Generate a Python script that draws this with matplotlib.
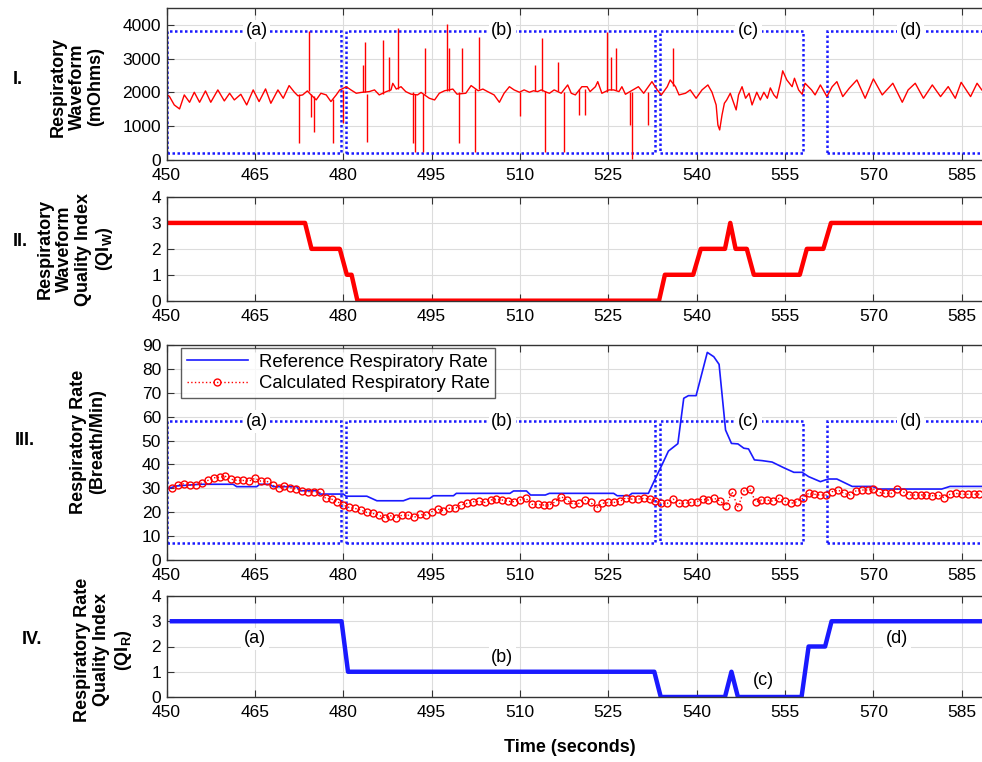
import matplotlib
matplotlib.use("Agg")
import matplotlib.pyplot as plt
from matplotlib.patches import Rectangle

plt.rcParams['font.family'] = ['Liberation Sans', 'DejaVu Sans']
plt.rcParams['mathtext.fontset'] = 'custom'
plt.rcParams['mathtext.rm'] = 'Liberation Sans'
plt.rcParams['mathtext.bf'] = 'Liberation Sans:bold'

# ---------------- data ----------------
x_ticks = [450, 465, 480, 495, 510, 525, 540, 555, 570, 585]

# Panel I: respiratory waveform (base trace)
wave_t = [450.0, 450.5, 451.3, 452.2, 453.0, 453.9, 454.7, 455.6, 456.6, 457.5,
          458.7, 459.8, 460.7, 461.5, 462.6, 463.6, 464.7, 465.7, 466.8, 467.7,
          468.9, 469.8, 470.8, 471.7, 472.3, 473.1, 473.9, 474.4, 475.4, 476.2,
          477.1, 477.9, 478.8, 479.4, 480.0, 480.5, 481.3, 482.2, 483.0, 484.4,
          485.3, 486.1, 487.3, 488.1, 488.4, 489.0, 489.8, 490.6, 491.5, 492.6,
          493.2, 494.6, 495.5, 496.3, 497.2, 498.6, 499.3, 500.8, 501.7, 502.9,
          503.7, 504.5, 505.6, 506.5, 507.3, 508.2, 509.0, 509.9, 510.7, 511.6,
          512.3, 513.0, 513.6, 514.6, 515.0, 515.8, 517.0, 518.1, 518.7, 519.4,
          520.5, 521.4, 521.9, 522.8, 523.2, 523.9, 525.1, 525.9, 526.8, 527.3,
          527.9, 529.6, 530.1, 531.0, 532.4, 533.3, 534.0, 535.0, 535.5, 536.4,
          537.0, 538.1, 538.9, 539.9, 540.9, 541.9, 542.6, 543.3, 543.6, 543.9,
          544.3, 544.7, 545.1, 545.7, 546.3, 546.7, 547.1, 547.7, 548.3, 548.9,
          549.4, 550.2, 550.8, 551.4, 552.0, 552.5, 553.1, 553.6, 554.2, 554.6,
          555.3, 556.2, 556.6, 557.3, 557.9, 558.4, 559.5, 560.1, 561.0, 562.1,
          563.0, 563.8, 564.8, 565.9, 567.2, 568.6, 570.0, 571.5, 573.3, 574.9,
          575.9, 577.1, 578.5, 580.0, 581.4, 582.7, 583.9, 584.9, 586.5, 587.6,
          588.4]
wave_v = [1946, 1877, 1630, 1512, 1927, 1709, 2006, 1709, 2045, 1709,
          2075, 1749, 1976, 1778, 1946, 1630, 2075, 1729, 2104, 1680,
          2075, 1828, 2203, 2006, 1900, 1927, 2045, 1950, 1780, 1976,
          1927, 1730, 1927, 2075, 2120, 2170, 2075, 1976, 2000, 2025,
          2075, 1927, 2025, 2075, 2270, 2100, 2170, 2025, 1950, 1927,
          2000, 1828, 1778, 1976, 2050, 2100, 1950, 1976, 2203, 2050,
          2100, 2025, 1927, 1709, 1976, 2170, 2075, 2006, 2075, 2006,
          2050, 2025, 2075, 2000, 1976, 2075, 1976, 2222, 1976, 1927,
          2170, 2170, 2025, 2170, 2320, 1976, 2075, 2075, 2025, 2170,
          1946, 2120, 2170, 1976, 2320, 2075, 1927, 2170, 2370, 2170,
          1927, 1976, 2075, 1828, 2075, 2222, 2006, 1630, 1035, 890,
          1335, 1680, 1778, 1976, 1680, 1482, 1927, 2170, 1828, 1976,
          1630, 2006, 1778, 2006, 1828, 2134, 1927, 1828, 2272, 2640,
          2370, 2170, 2420, 2075, 1946, 2272, 2075, 1927, 2222, 1877,
          2170, 2320, 1877, 2124, 2370, 1828, 2400, 1927, 2272, 1709,
          2075, 2272, 1828, 2222, 1877, 2173, 1828, 2300, 1877, 2272,
          2075]

# Panel I: artifact spikes (time, baseline, tip)
spike_t = [472.5, 474.2, 474.6, 475.0, 478.3, 479.9, 483.4, 483.7, 484.0, 486.7,
           487.7, 489.3, 491.8, 492.2, 493.5, 493.8, 497.6, 498.0, 499.6, 500.2,
           502.4, 503.1, 510.0, 512.6, 513.8, 514.2, 516.4, 517.5, 520.1, 521.0,
           524.8, 525.5, 526.3, 528.7, 529.0, 531.8, 535.9]
spike_base = [1950, 2040, 1950, 1900, 1800, 2080, 2000, 2000, 1950, 1950,
              2050, 2100, 2000, 1950, 1950, 1950, 2050, 2050, 2000, 2000,
              2100, 2100, 2000, 2050, 2050, 2050, 2050, 2000, 2100, 2100,
              2000, 2075, 2075, 2000, 2000, 2000, 2200]
spike_v = [515, 3820, 1285, 840, 515, 1085, 2815, 3505, 540, 3555,
           3060, 3900, 490, 250, 250, 3310, 4020, 3310, 490, 3310,
           250, 3655, 1300, 2815, 3605, 250, 2915, 250, 1335, 1335,
           3800, 3060, 3310, 1035, 30, 1035, 3310]

# Panel II: waveform quality index
qiw_t = [450.6, 473.5, 474.6, 479.4, 480.6, 481.4, 482.4, 533.6, 534.6, 539.4,
         540.7, 544.8, 545.7, 546.6, 548.5, 549.7, 557.5, 558.7, 561.5, 562.8, 590.0]
qiw_v = [3, 3, 2, 2, 1, 1, 0, 0, 1, 1, 2, 2, 3, 2, 2, 1, 1, 2, 2, 3, 3]

# Panel III: reference respiratory rate
ref_t = [450.0, 451.7, 455.7, 461.3, 461.9, 465.3, 465.8, 467.5, 468.1, 472.1,
         472.6, 475.5, 476.0, 480.0, 480.5, 484.0, 485.7, 490.2, 491.3, 494.7,
         495.3, 498.7, 499.2, 508.3, 508.9, 511.1, 511.8, 514.3, 515.0, 525.9,
         526.5, 528.5, 529.0, 531.8, 533.0, 534.1, 535.2, 536.8, 537.8, 538.6,
         539.9, 541.8, 542.9, 543.8, 544.9, 545.9, 547.0, 548.0, 548.8, 549.8,
         551.1, 552.8, 554.8, 556.5, 557.9, 559.0, 561.0, 562.3, 563.8, 566.4,
         569.8, 570.9, 581.6, 583.0, 590.0]
ref_v = [29.7, 31.0, 31.7, 31.7, 30.7, 30.7, 31.7, 31.7, 30.7, 30.7,
         29.0, 29.0, 27.6, 27.6, 26.7, 26.7, 24.8, 24.8, 25.8, 25.8,
         26.9, 26.9, 27.9, 27.9, 28.9, 28.9, 27.2, 27.2, 27.9, 27.9,
         26.9, 26.9, 27.9, 27.9, 34.2, 39.8, 45.6, 48.7, 67.7, 68.8,
         68.8, 86.9, 85.1, 81.9, 54.4, 48.8, 48.6, 46.8, 46.5, 41.9,
         41.6, 41.0, 38.6, 36.7, 36.7, 34.9, 32.8, 33.9, 33.9, 30.8,
         30.8, 29.7, 29.7, 30.8, 30.8]

# Panel III: calculated respiratory rate (one value per second, 451..588 s)
calc_t = list(range(451, 589))
calc_v = [30.0, 31.5, 32.0, 31.4, 31.5, 32.3, 33.3, 34.4, 34.7, 35.0,
          33.8, 33.3, 33.3, 33.0, 34.2, 33.0, 33.0, 31.3, 30.2, 31.0,
          30.2, 29.8, 29.0, 28.6, 28.6, 28.3, 25.8, 25.5, 24.4, 23.0,
          22.0, 21.6, 20.9, 19.9, 19.5, 18.8, 17.7, 18.5, 17.7, 18.8,
          18.8, 17.8, 19.1, 18.8, 20.2, 21.3, 20.7, 21.6, 21.6, 23.0,
          23.7, 24.4, 24.6, 24.1, 25.1, 25.5, 25.1, 24.6, 24.4, 25.1,
          25.8, 23.3, 23.3, 23.0, 23.0, 24.4, 26.5, 25.1, 23.3,
          23.7, 25.1, 24.1, 21.9, 23.7, 24.1, 24.1, 24.6, 26.0, 25.5,
          25.5, 25.8, 25.5, 24.6, 23.7, 23.7, 25.5, 23.7, 23.7, 24.1,
          24.4, 25.5, 25.1, 25.8, 24.6, 22.7, 28.6, 22.0, 28.9, 29.7,
          24.4, 25.1, 25.1, 24.6, 25.8, 24.6, 23.7, 24.4, 25.8, 27.9,
          27.5, 27.2, 27.2, 28.6, 29.3, 27.9, 27.2, 28.9, 29.3, 29.3,
          29.7, 28.3, 27.9, 27.9, 29.7, 28.6, 27.2, 27.2, 27.2, 27.2,
          26.9, 27.2, 26.1, 27.5, 27.9, 27.5, 27.5, 27.5, 27.5]

# Panel IV: respiratory rate quality index
qir_t = [450.9, 479.7, 480.8, 532.8, 533.9, 544.8, 545.9, 547.0, 557.8, 559.0,
         561.8, 562.9, 590.0]
qir_v = [3, 3, 1, 1, 0, 0, 1, 0, 0, 2, 2, 3, 3]

# Segment boxes (a)-(d)
seg_labels = ['(a)', '(b)', '(c)', '(d)']
seg_left = [450.1, 480.4, 533.8, 562.2]
seg_right = [479.6, 532.9, 558.0, 592.0]
seg_text_x = [465.3, 507.0, 548.8, 576.3]
wave_box_y = [200, 3820]
rate_box_y = [7, 58]
qir_text_x = [465.0, 507.0, 551.4, 574.0]
qir_text_y = [2.3, 1.58, 0.67, 2.3]

# ---------------- figure ----------------
W, H = 982, 762
fig = plt.figure(figsize=(W / 100, H / 100), dpi=100)

def px_axes(top, bottom):
    left = 166.6 / W
    width = (590 - 450) * 5.89 / W
    return [left, 1 - bottom / H, width, (bottom - top) / H]

ax1 = fig.add_axes(px_axes(8, 160))
ax2 = fig.add_axes(px_axes(197, 300.7))
ax3 = fig.add_axes(px_axes(345, 560))
ax4 = fig.add_axes(px_axes(596, 697))

TICK_FS = 12.5
for ax in (ax1, ax2, ax3, ax4):
    ax.set_xlim(450, 590)
    ax.set_xticks(x_ticks)
    ax.grid(True, color='#dcdcdc', lw=0.8)
    ax.set_axisbelow(True)
    ax.tick_params(direction='in', top=True, right=True, length=5,
                   labelsize=TICK_FS, color='#333333')
    ax.tick_params(axis='x', pad=6)
    ax.tick_params(axis='y', pad=4)
    for s in ax.spines.values():
        s.set_color('#333333')
        s.set_linewidth(1.0)

dot = dict(color='#1a1aff', lw=1.8, ls=(0, (1, 1)))

# Panel I
ax1.plot(wave_t, wave_v, color='red', lw=1.0)
ax1.vlines(spike_t, spike_base, spike_v, color='red', lw=1.0)
ax1.set_ylim(0, 4500)
ax1.set_yticks([0, 1000, 2000, 3000, 4000])
for l, r in zip(seg_left, seg_right):
    ax1.add_patch(Rectangle((l, wave_box_y[0]), r - l, wave_box_y[1] - wave_box_y[0],
                            fill=False, clip_on=True, **dot))
for lab, x in zip(seg_labels, seg_text_x):
    ax1.text(x, wave_box_y[1], lab, ha='center', va='center', fontsize=13,
             bbox=dict(facecolor='white', edgecolor='none', pad=2))

# Panel II
ax2.plot(qiw_t, qiw_v, color='red', lw=3.2)
ax2.set_ylim(0, 4)
ax2.set_yticks([0, 1, 2, 3, 4])

# Panel III
for l, r in zip(seg_left, seg_right):
    ax3.add_patch(Rectangle((l, rate_box_y[0]), r - l, rate_box_y[1] - rate_box_y[0],
                            fill=False, clip_on=True, **dot))
for lab, x in zip(seg_labels, seg_text_x):
    ax3.text(x, rate_box_y[1], lab, ha='center', va='center', fontsize=13,
             bbox=dict(facecolor='white', edgecolor='none', pad=2))
ax3.plot(ref_t, ref_v, color='#1a1aff', lw=1.2, label='Reference Respiratory Rate')
ax3.plot(calc_t, calc_v, color='red', lw=1.0, ls=':', marker='o', ms=5,
         mfc='none', mec='red', mew=1.0, label='Calculated Respiratory Rate')
ax3.set_ylim(0, 90)
ax3.set_yticks(range(0, 91, 10))
leg = ax3.legend(loc='upper left', bbox_to_anchor=(0.018, 0.985), fontsize=13.3,
                 frameon=True, fancybox=False, edgecolor='#333333',
                 handlelength=3.3, borderpad=0.3, labelspacing=0.25,
                 handletextpad=0.6, borderaxespad=0)
leg.get_frame().set_linewidth(1.0)

# Panel IV
ax4.plot(qir_t, qir_v, color='#1a1aff', lw=3.2)
ax4.set_ylim(0, 4)
ax4.set_yticks([0, 1, 2, 3, 4])
for lab, x, y in zip(seg_labels, qir_text_x, qir_text_y):
    ax4.text(x, y, lab, ha='center', va='center', fontsize=13,
             bbox=dict(facecolor='white', edgecolor='none', pad=2))

# Labels
def ftext(xp, yp, s, **kw):
    fig.text(xp / W, 1 - yp / H, s, **kw)

lab_kw = dict(rotation=90, ha='center', va='center', fontsize=13,
              fontweight='bold', multialignment='center', linespacing=1.15)
ftext(77, 87, 'Respiratory\nWaveform\n(mOhms)', **lab_kw)
ftext(76, 249, 'Respiratory\nWaveform\nQuality Index\n(QI$_{\\mathbf{W}}$)', **lab_kw)
ftext(88, 442, 'Respiratory Rate\n(Breath/Min)', **lab_kw)
ftext(104, 650, 'Respiratory Rate\nQuality Index\n(QI$_{\\mathbf{R}}$)', **lab_kw)

num_kw = dict(ha='center', va='center', fontsize=13, fontweight='bold')
ftext(18, 80, 'I.', **num_kw)
ftext(20, 242, 'II.', **num_kw)
ftext(25, 440, 'III.', **num_kw)
ftext(32, 640, 'IV.', **num_kw)

ftext(570, 748, 'Time (seconds)', ha='center', va='center', fontsize=13,
      fontweight='bold')

fig.savefig('out.png', dpi=100)
